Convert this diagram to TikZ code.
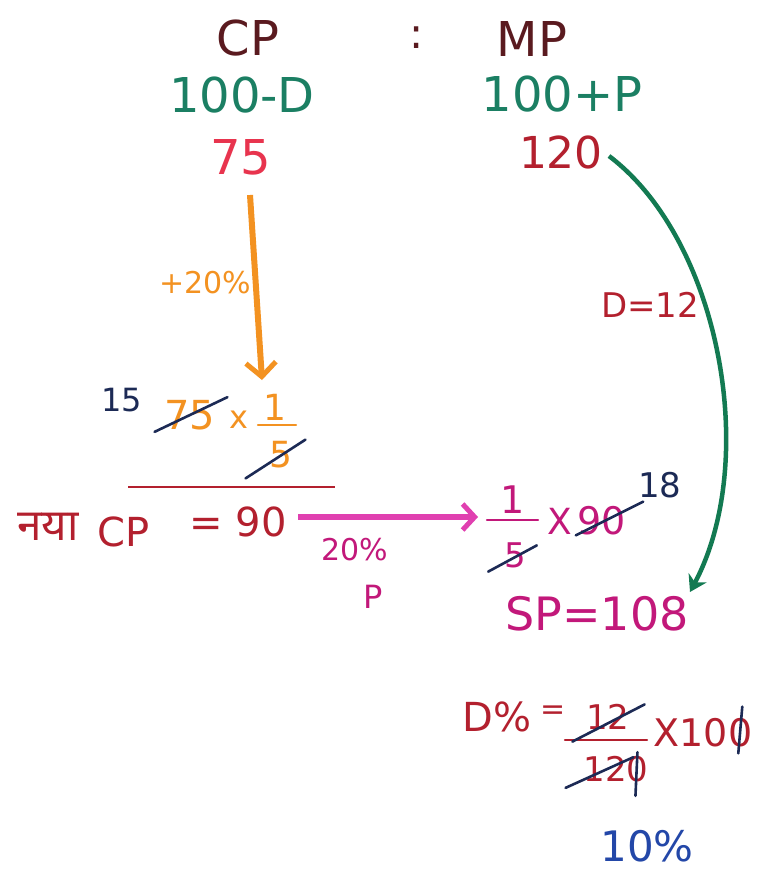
\documentclass[tikz,border=0pt]{standalone}
\usepackage{fontspec}
\setmainfont{DejaVu Sans}
\newfontfamily\deva[Script=Devanagari]{Noto Sans}
\usetikzlibrary{arrows.meta}
\definecolor{cdark}{HTML}{5A1A1F}
\definecolor{cgreen}{HTML}{1B7F63}
\definecolor{cred}{HTML}{E8344E}
\definecolor{cdred}{HTML}{B3202E}
\definecolor{corange}{HTML}{F39221}
\definecolor{cgarrow}{HTML}{137A52}
\definecolor{cnavy}{HTML}{1C2A55}
\definecolor{cmag}{HTML}{E040B0}
\definecolor{cmagd}{HTML}{C2187A}
\definecolor{cblue}{HTML}{2347A8}
\begin{document}
\begin{tikzpicture}[x=1pt,y=-1pt,
  every node/.style={inner sep=0pt,outer sep=0pt},
  fs/.style={font=\fontsize{#1}{#1}\selectfont},
  strike/.style={draw=cnavy,line width=2.6pt,line cap=round},
  bar/.style={line width=2.4pt,line cap=round}]
\useasboundingbox[fill=white] (0,0) rectangle (758,870);

% header
\node[fs=48,text=cdark] (cp) at (248,38) {CP};
\node[fs=42,text=cdark] (colon) at (417,38) {:};
\node[fs=48,text=cdark] (mp) at (532,39) {MP};
\node[fs=48,text=cgreen] (cpf) at (242,95) {100-D};
\node[fs=48,text=cgreen] (mpf) at (562,94) {100+P};
\node[fs=48,text=cred] (t75) at (241,157) {75};
\node[fs=44,text=cdred] (t120) at (561,152) {120};

% orange arrow
\coordinate (oa1) at (250,195);
\coordinate (oa2) at (262,380);
\draw[corange,line width=6pt,-{Straight Barb[length=14pt,width=30pt,line width=5pt]}] (oa1) -- (oa2);
\node[fs=30,text=corange] (plus) at (205,283) {+20\%};

% green arrow
\coordinate (ga2) at (690,592);
\draw[cgarrow,line width=4.5pt,-{Stealth[length=16pt,width=20pt]}]
  ([xshift=6pt,yshift=-4pt]t120.east) .. controls (720,240) and (760,460) .. (ga2);
\node[fs=34,text=cdred] (d12) at (650,305) {D=12};

% 75 x 1/5
\node[fs=32,text=cnavy] (n15) at (122,400) {15};
\node[fs=40,text=corange] (s75) at (190,415) {75};
\node[fs=32,text=corange] (x1) at (239,420) {x};
\node[fs=36,text=corange] (num1) at (275,407) {1};
\node[fs=36,text=corange] (den1) at (281,455) {5};
\draw[corange,bar] (258,425) -- (296,425);
\draw[strike] ([xshift=-10pt,yshift=-2pt]s75.south west) -- ([xshift=12pt,yshift=3pt]s75.north east);
\draw[strike] ([xshift=-24pt,yshift=-10pt]den1.south west) -- ([xshift=13pt,yshift=2pt]den1.north east);
\draw[cdred,line width=2.4pt] (128,487) -- (335,487);

% new CP
\node[fs=44,text=cdred] (naya) at (48,527) {\deva नया};
\node[fs=40,text=cdred] (ncp) at (124,532) {CP};
\node[fs=40,text=cdred] (eq90) at (238,522) {= 90};

% magenta arrow
\node[fs=38,text=cmagd] (num2) at (513,500) {1};
\node[fs=34,text=cmagd] (den2) at (515,555) {5};
\draw[cmagd,bar] (487,520) -- (538,520);
\draw[strike] ([xshift=-16pt,yshift=-4pt]den2.south west) -- ([xshift=11pt,yshift=-3pt]den2.north east);
\coordinate (ma1) at (298,517);
\coordinate (ma2) at (478,517);
\draw[cmag,line width=6pt,-{Straight Barb[length=12pt,width=26pt,line width=5pt]}] (ma1) -- (ma2);
\node[fs=30,text=cmagd] (p20) at (355,550) {20\%};
\node[fs=32,text=cmagd] (pp) at (373,597) {P};

\node[fs=36,text=cmagd] (x2) at (560,521) {X};
\node[fs=38,text=cmagd] (s90) at (602,521) {90};
\draw[strike] ([xshift=-2pt,yshift=0pt]s90.south west) -- ([xshift=17pt,yshift=5pt]s90.north east);
\node[fs=34,text=cnavy] (n18) at (660,485) {18};

\node[fs=46,text=cmagd] (sp) at (597,614) {SP=108};

% D%
\node[fs=40,text=cdred] (dp) at (497,717) {D\%};
\node[fs=30,text=cdred] (eq2) at (553,713) {=};
\node[fs=34,text=cdred] (n12) at (608,717) {12};
\node[fs=34,text=cdred] (n120) at (616,769) {120};
\draw[cdred,bar] (565,740) -- (647,740);
\draw[strike] ([xshift=-14pt,yshift=-12pt]n12.south west) -- ([xshift=15pt,yshift=0pt]n12.north east);
\draw[strike] ([xshift=-18pt,yshift=-6pt]n120.south west) -- ([xshift=-15pt,yshift=-1pt]n120.north east);
\draw[strike] ([xshift=-11pt,yshift=4pt]n120.north east) -- ([xshift=-13pt,yshift=-14pt]n120.south east);
\node[fs=38,text=cdred] (x100) at (703,733) {X100};
\draw[strike] ([xshift=-10pt,yshift=12pt]x100.north east) -- ([xshift=-14pt,yshift=-6pt]x100.south east);

\node[fs=42,text=cblue] (r10) at (647,846) {10\%};
\end{tikzpicture}
\end{document}
